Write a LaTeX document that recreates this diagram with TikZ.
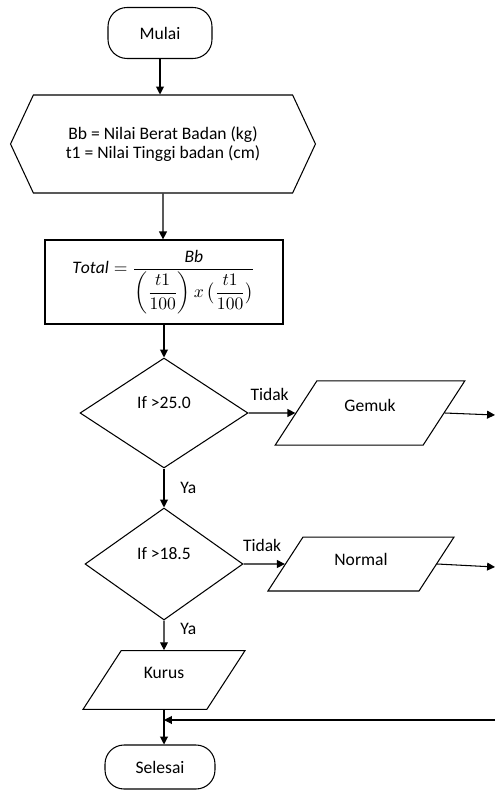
\documentclass[tikz,border=0pt]{standalone}
\usepackage{amsmath}
\usepackage{fontspec}
\setmainfont{Carlito}
\usetikzlibrary{positioning,arrows.meta,shapes.geometric,shapes.symbols}
\tikzset{
  term/.style={draw, rounded corners=0.38cm, line width=0.6pt, inner sep=2pt},
  inp/.style ={signal, signal to=west and east, signal pointer angle=130, draw, line width=0.6pt, align=center, inner sep=2pt, font=\fontsize{10}{10.5}\selectfont},
  proc/.style={rectangle, draw, line width=0.7pt, inner sep=2pt},
  dec/.style ={diamond, draw, line width=0.6pt, inner sep=1pt},
  io/.style  ={trapezium, trapezium left angle=57, trapezium right angle=123, draw, line width=0.6pt, inner sep=2pt},
  flow/.style={-{Triangle[length=4.5pt,width=4.5pt]}, line width=0.6pt},
  lbl/.style ={inner sep=1pt},
}

\begin{document}
\begin{tikzpicture}[x=0.02cm, y=-0.02cm, font=\fontsize{10}{12}\selectfont]
        \useasboundingbox (0,0) rectangle (495,790);
        \node[term, minimum width=2.08cm, minimum height=1.02cm] (mulai) at (160,33) {Mulai};
        \node[inp, minimum width=6.1cm, minimum height=1.96cm] (input) at (163,144) {Bb = Nilai Berat Badan (kg)\\t1 = Nilai Tinggi badan (cm)};
        \node[proc, minimum width=4.76cm, minimum height=1.68cm] (hitung) at (164,282)
          {\raisebox{8pt}{$\mathit{Total}=\dfrac{\mathit{Bb}}{\left(\dfrac{t1}{100}\right)x\,\bigl(\dfrac{t1}{100}\bigr)}$}};
        \node[dec, minimum width=3.36cm, minimum height=2.2cm] (cek1) at (164,413) {\raisebox{12pt}{If >25.0}};
        \node[io, minimum width=3.82cm, minimum height=0.96cm] (gemuk) at (370,413) {\raisebox{9pt}{Gemuk}};
        \node[dec, minimum width=3.16cm, minimum height=2.24cm] (cek2) at (164,564) {\raisebox{12pt}{If >18.5}};
        \node[io, minimum width=3.74cm, minimum height=0.94cm] (normal) at (361,564) {\raisebox{5pt}{Normal}};
        \node[io, minimum width=3.26cm, minimum height=1.02cm] (kurus) at (164,680) {\raisebox{8pt}{Kurus}};
        \node[term, minimum width=2.2cm, minimum height=0.88cm] (selesai) at (160,767) {Selesai};
        \coordinate (kanan1) at (495,415);
        \coordinate (kanan2) at (495,567);
        \coordinate (kanan3) at (495,720);
        \draw[flow] (mulai) -- (mulai |- input.north);
        \draw[flow] (input) -- (input |- hitung.north);
        \draw[flow] (hitung) -- (cek1);
        \draw[flow] (cek1) -- node[lbl, above=6pt, pos=0.45] {Tidak} (gemuk);
        \draw[flow] (gemuk.east) -- (kanan1);
        \draw[flow] (cek1) -- node[lbl, right=8pt, pos=0.5] {Ya} (cek2);
        \draw[flow] (cek2) -- node[lbl, above=6pt, pos=0.45] {Tidak} (normal);
        \draw[flow] (normal.east) -- (kanan2);
        \draw[flow] (cek2) -- node[lbl, right=8pt, pos=0.3] {Ya} (kurus);
        \draw[flow] (kurus.south) -- (kurus.south |- selesai.north);
        \draw[flow] (kanan3) -- (kanan3 -| kurus.south);
      \end{tikzpicture}
\end{document}
